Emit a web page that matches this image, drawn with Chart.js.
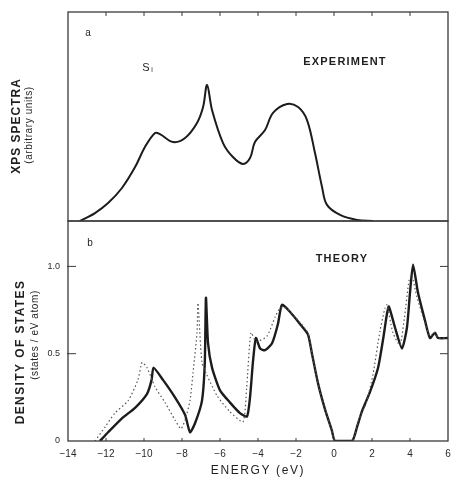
<!DOCTYPE html>
<html>
<head>
<meta charset="utf-8">
<script src="https://cdn.jsdelivr.net/npm/chart.js@4.4.0/dist/chart.umd.min.js"></script>
<style>
    body { margin: 0; background: #fff; }
    .figure { position: relative; width: 452px; height: 479px; background: #fff; }
    .figure canvas { position: absolute; left: 0; }
    #xps { top: 0; }
    #dos { top: 220px; }
</style>
</head>
<body>
<div class="figure">
    <canvas id="xps" width="452" height="222"></canvas>
    <canvas id="dos" width="452" height="259"></canvas>
</div>
<script>
// panel a: measured XPS spectrum (arbitrary units)
const xpsEnergy = [-13.37, -12.58, -11.89, -11.16, -10.47, -9.95, -9.42, -9.16, -8.47, -7.84, -7.21, -6.89, -6.68, -6.42, -5.84, -5.32, -4.79, -4.42, -4.16, -3.63, -3.21, -2.47, -1.89, -1.42, -1.0, -0.63, -0.37, 0.32, 1.21, 2.05];
const xpsIntensity = [0, 3.8, 8.6, 15.8, 25.8, 35.4, 42.1, 41.6, 37.8, 39.7, 46.9, 54.5, 65.1, 53.1, 37.3, 30.6, 27.3, 30.1, 37.8, 43.5, 51.7, 56.0, 54.5, 48.3, 32.5, 16.3, 7.7, 2.9, 0.5, 0];

// panel b: calculated density of states, solid curve
const dosEnergy = [-12.32, -11.89, -11.16, -10.47, -9.84, -9.6, -9.5, -9.0, -8.37, -7.84, -7.58, -7.32, -6.95, -6.8, -6.74, -6.63, -6.42, -6.0, -5.47, -4.95, -4.58, -4.42, -4.26, -4.11, -3.89, -3.63, -3.26, -2.95, -2.74, -2.32, -1.79, -1.37, -1.16, -0.84, -0.47, -0.11, 0.05,
    0.95, 1.21, 1.47, 1.89, 2.32, 2.58, 2.79, 2.89, 3.21, 3.58, 3.84, 4.0, 4.16, 4.42, 4.79, 5.05, 5.32, 5.47, 6.0];
const dosStates = [0, 0.05, 0.13, 0.19, 0.27, 0.35, 0.42, 0.35, 0.25, 0.15, 0.05, 0.10, 0.23, 0.45, 0.82, 0.56, 0.42, 0.29, 0.22, 0.16, 0.14, 0.25, 0.46, 0.59, 0.53, 0.52, 0.56, 0.67, 0.78, 0.74, 0.67, 0.61, 0.50, 0.33, 0.18, 0.06, 0,
    0, 0.08, 0.17, 0.28, 0.42, 0.58, 0.73, 0.77, 0.65, 0.53, 0.65, 0.85, 1.01, 0.85, 0.69, 0.59, 0.62, 0.59, 0.59];

// panel b: second calculation, dotted curve
const altEnergy = [-12.58, -12.05, -11.53, -10.84, -10.32, -10.1, -9.84, -9.42, -8.89, -8.37, -8.05, -7.84, -7.58, -7.42, -7.21, -7.16, -6.95, -6.7, -6.16, -5.5, -4.79, -4.6, -4.37, -4.1, -3.53, -3.1, -2.84, -2.5, -1.8, -1.37, -1.16, -0.84, -0.47, -0.11, 0.05,
    0.95, 1.3, 1.7, 2.05, 2.42, 2.68, 2.79, 3.1, 3.47, 3.7, 3.95, 4.1, 4.35, 4.75, 5.05, 5.3, 5.5, 6.0];
const altStates = [0, 0.08, 0.16, 0.23, 0.35, 0.45, 0.42, 0.31, 0.22, 0.12, 0.07, 0.12, 0.23, 0.39, 0.62, 0.79, 0.45, 0.38, 0.26, 0.17, 0.11, 0.30, 0.62, 0.57, 0.60, 0.71, 0.76, 0.76, 0.68, 0.62, 0.5, 0.33, 0.18, 0.06, 0,
    0, 0.12, 0.22, 0.38, 0.63, 0.76, 0.78, 0.62, 0.55, 0.7, 0.92, 0.95, 0.83, 0.69, 0.6, 0.62, 0.59, 0.59];

const energyTicks = [-14, -12, -10, -8, -6, -4, -2, 0, 2, 4, 6];
const dosTicks = [0, 0.5, 1.0];

const ink = '#1c1c1c';
Chart.defaults.font.family = "'Liberation Sans', Arial, sans-serif";
Chart.defaults.color = '#2a2a2a';

const toPoints = (xs, ys) => xs.map((x, i) => ({ x, y: ys[i] }));

// box round the plot area plus short inward tick marks
const frame = {
    id: 'frame',
    afterDatasetsDraw(chart, args, opts) {
        const { ctx, chartArea: a, scales } = chart;
        ctx.save();
        ctx.strokeStyle = '#3a3a3a';
        ctx.lineWidth = 1.3;
        ctx.strokeRect(a.left, a.top, a.right - a.left, a.bottom - a.top);
        ctx.lineWidth = 1;
        ctx.beginPath();
        energyTicks.slice(1, -1).forEach(e => {
            const px = scales.x.getPixelForValue(e);
            if (opts.top) { ctx.moveTo(px, a.top); ctx.lineTo(px, a.top + 4); }
            if (opts.bottom) { ctx.moveTo(px, a.bottom); ctx.lineTo(px, a.bottom - 3); }
        });
        (opts.side || []).forEach(v => {
            const py = scales.y.getPixelForValue(v);
            ctx.moveTo(a.left - 1, py); ctx.lineTo(a.left + 8, py);
            ctx.moveTo(a.right, py); ctx.lineTo(a.right - 8, py);
        });
        ctx.stroke();
        ctx.restore();
    }
};

// free text: panel letters, captions and the two-line axis titles
const captions = {
    id: 'captions',
    afterDraw(chart, args, opts) {
        const ctx = chart.ctx;
        (opts.items || []).forEach(t => {
            ctx.save();
            ctx.translate(t.x, t.y);
            if (t.rotate) ctx.rotate(t.rotate);
            ctx.font = t.font;
            ctx.letterSpacing = (t.spacing || 0) + 'px';
            ctx.fillStyle = t.color || '#1e1e1e';
            ctx.textAlign = t.align || 'center';
            ctx.textBaseline = 'middle';
            ctx.fillText(t.text, 0, 0);
            ctx.restore();
        });
    }
};

const up = -Math.PI / 2;

new Chart(document.getElementById('xps'), {
    type: 'line',
    data: {
        datasets: [{
            data: toPoints(xpsEnergy, xpsIntensity),
            borderColor: ink,
            borderWidth: 2,
            pointRadius: 0,
            tension: 0.35,
            fill: false
        }]
    },
    options: {
        responsive: false,
        animation: false,
        layout: { padding: { left: 68, right: 4, top: 12, bottom: 1 } },
        scales: {
            x: { type: 'linear', min: -14, max: 6, display: false },
            y: { min: 0, max: 100, display: false }
        },
        plugins: {
            legend: { display: false },
            tooltip: { enabled: false },
            frame: { top: true },
            captions: {
                items: [
                    { text: 'a', x: 88, y: 33, font: '10px Liberation Sans' },
                    { text: 'EXPERIMENT', x: 345, y: 62, font: '600 11px Liberation Sans', spacing: 1.2 },
                    { text: 'S', x: 146, y: 68, font: '11px Liberation Sans' },
                    { text: 'i', x: 152, y: 70, font: '7px Liberation Sans' },
                    { text: 'XPS SPECTRA', x: 17, y: 126, rotate: up, font: 'bold 12px Liberation Sans', spacing: 1 },
                    { text: '(arbitrary units)', x: 29, y: 125, rotate: up, font: '10px Liberation Sans', spacing: 0.6 }
                ]
            }
        }
    },
    plugins: [frame, captions]
});

new Chart(document.getElementById('dos'), {
    type: 'line',
    data: {
        datasets: [{
            data: toPoints(altEnergy, altStates),
            borderColor: '#555',
            borderWidth: 1.2,
            borderDash: [1.5, 2.5],
            pointRadius: 0,
            tension: 0.2,
            fill: false
        }, {
            data: toPoints(dosEnergy, dosStates),
            borderColor: ink,
            borderWidth: 2.4,
            pointRadius: 0,
            tension: 0.2,
            fill: false
        }]
    },
    options: {
        responsive: false,
        animation: false,
        layout: { padding: { left: 0, right: 4, top: 1, bottom: 0 } },
        scales: {
            x: {
                type: 'linear',
                min: -14,
                max: 6,
                afterFit: s => { s.height = 38; s.paddingLeft = 0; s.paddingRight = 0; },
                afterBuildTicks: s => { s.ticks = energyTicks.map(value => ({ value })); },
                grid: { display: false, drawTicks: false },
                border: { display: false },
                ticks: {
                    padding: 7,
                    font: { size: 10 },
                    callback: v => v < 0 ? '\u2212' + Math.abs(v) : String(v)
                }
            },
            y: {
                min: 0,
                max: 1.26,
                afterFit: s => { s.width = 68; s.paddingTop = 0; s.paddingBottom = 0; },
                afterBuildTicks: s => { s.ticks = dosTicks.map(value => ({ value })); },
                grid: { display: false, drawTicks: false },
                border: { display: false },
                ticks: {
                    padding: 8,
                    font: { size: 9 },
                    callback: v => v === 0 ? '0' : v.toFixed(1)
                }
            }
        },
        plugins: {
            legend: { display: false },
            tooltip: { enabled: false },
            frame: { bottom: true, side: [0.5, 1.0] },
            captions: {
                items: [
                    { text: 'b', x: 90, y: 23, font: '10px Liberation Sans' },
                    { text: 'THEORY', x: 342, y: 39, font: '600 11px Liberation Sans', spacing: 1.2 },
                    { text: 'DENSITY OF STATES', x: 21, y: 132, rotate: up, font: 'bold 12px Liberation Sans', spacing: 1.4 },
                    { text: '(states / eV atom)', x: 35, y: 115, rotate: up, font: '10px Liberation Sans', spacing: 0.6 },
                    { text: 'ENERGY (eV)', x: 258, y: 251, font: '12px Liberation Sans', spacing: 1.6 }
                ]
            }
        }
    },
    plugins: [frame, captions]
});
</script>
</body>
</html>
